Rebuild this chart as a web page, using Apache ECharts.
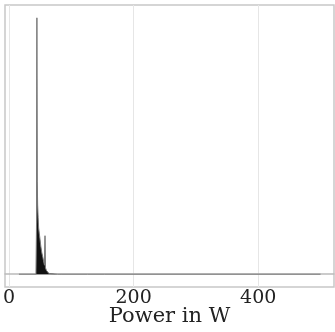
<!DOCTYPE html>
<html>
<head>
<meta charset="utf-8">
<script src="https://cdn.jsdelivr.net/npm/echarts@6/dist/echarts.min.js"></script>
<style>html,body{margin:0;padding:0;background:#fff}#c{width:335px;height:332px}</style>
</head>
<body>
<div id="c"></div>
<script>
var powerW = [16, 43.3, 44.2, 44.8, 45.4, 46.0, 46.8, 47.6, 48.6, 49.6, 51.0, 52.6, 54.4, 56.0, 57.0, 57.8, 58.5, 60.0, 62.0, 64.0, 66.0, 78, 79, 80, 85, 86, 87, 126, 127, 128, 153, 154, 155, 500];
var density = [0, 0, 0.2, 1.0, 0.36, 0.27, 0.22, 0.18, 0.16, 0.14, 0.11, 0.085, 0.065, 0.045, 0.035, 0.15, 0.025, 0.015, 0.008, 0.003, 0, 0, 0.006, 0, 0, 0.006, 0, 0, 0.005, 0, 0, 0.005, 0, 0];
var xTicks = [0, 200, 400];
var xTitle = 'Power in W';

var pts = powerW.map(function (p, i) { return [p, density[i]]; });
var chart = echarts.init(document.getElementById('c'));
chart.setOption({
  animation: false,
  grid: { left: 5, right: 1, top: 5, bottom: 45, outerBoundsMode: 'none', containLabel: false, show: true, borderColor: '#c8c8c8', borderWidth: 1.5, backgroundColor: '#fff' },
  xAxis: {
    type: 'value', min: -6.4, max: 521.6,
    name: xTitle, nameLocation: 'middle', nameGap: 19.5, nameMoveOverlap: false,
    nameTextStyle: { fontFamily: 'DejaVu Serif', fontSize: 21, color: '#222', verticalAlign: 'top' },
    axisLine: { show: true, lineStyle: { color: '#bbb', width: 1.5 } },
    axisTick: { show: false, customValues: xTicks },
    axisLabel: { customValues: xTicks, fontFamily: 'DejaVu Serif', fontSize: 19, color: '#222', margin: 2 },
    splitLine: { show: true, lineStyle: { color: '#e6e6e6', width: 1 } }
  },
  yAxis: {
    type: 'value', min: -0.05, max: 1.05,
    axisLine: { show: false }, axisTick: { show: false }, axisLabel: { show: false },
    splitLine: { show: false }
  },
  series: [{
    type: 'line', data: pts, showSymbol: false, smooth: false,
    lineStyle: { color: '#777', width: 1 },
    areaStyle: { color: '#111', opacity: 1 }
  }]
});
</script>
</body>
</html>
